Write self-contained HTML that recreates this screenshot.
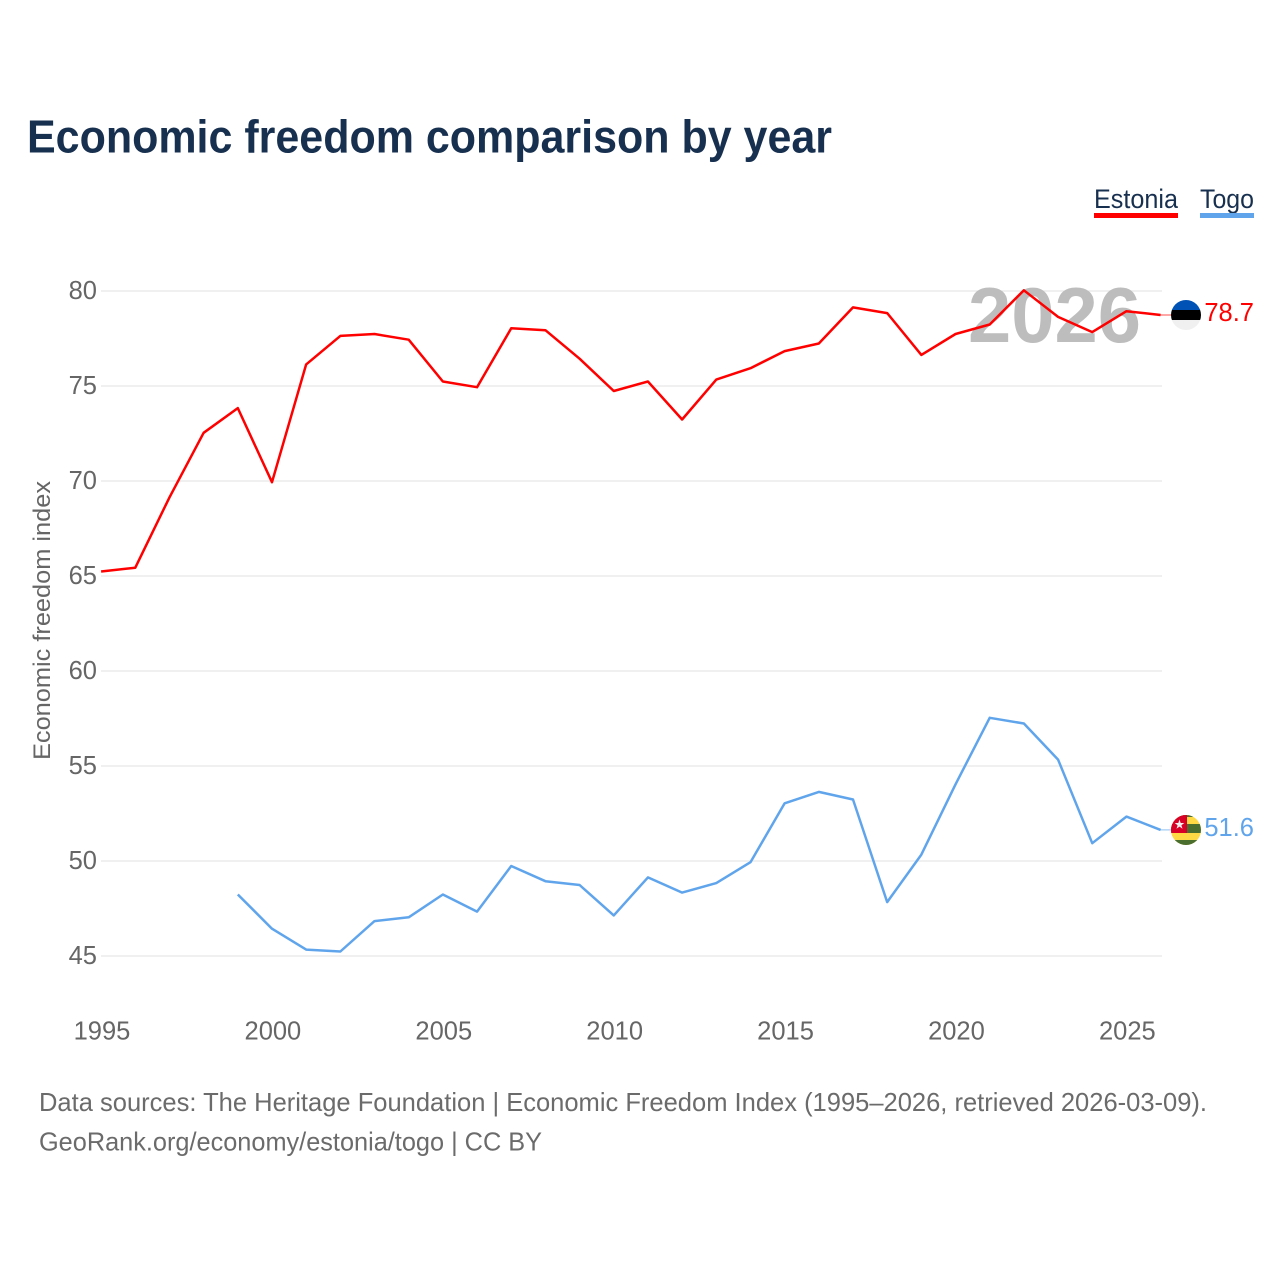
<!DOCTYPE html>
<html lang="en">
<head>
<meta charset="utf-8">
<title>Economic freedom comparison by year</title>
<style>
html,body{margin:0;padding:0;background:#fff}
svg{display:block}
text{font-family:"Liberation Sans",sans-serif}
</style>
</head>
<body>
<svg id="chart" xmlns="http://www.w3.org/2000/svg" width="1280" height="1280" viewBox="0 0 1280 1280">
  <defs>
    <clipPath id="flag-clip-top"><circle cx="1186" cy="315" r="15"/></clipPath>
    <clipPath id="flag-clip-bottom"><circle cx="1186" cy="830" r="15"/></clipPath>
  </defs>
  <rect width="1280" height="1280" fill="#fff"/>
  <text x="27" y="152.5" font-size="46" font-weight="700" fill="#18304f" textLength="805" lengthAdjust="spacingAndGlyphs">Economic freedom comparison by year</text>
  <g>
    <text x="1094" y="208" font-size="27" fill="#18304f" textLength="84" lengthAdjust="spacingAndGlyphs">Estonia</text>
    <rect x="1094" y="213" width="84" height="5" fill="#ff0000"/>
  </g>
  <g>
    <text x="1200" y="208" font-size="27" fill="#18304f" textLength="54" lengthAdjust="spacingAndGlyphs">Togo</text>
    <rect x="1200" y="213" width="54" height="5" fill="#60a5ec"/>
  </g>
  <g id="grid"></g>
  <g id="yticks"></g>
  <g id="xticks"></g>
  <text transform="translate(50,620.5) rotate(-90)" text-anchor="middle" font-size="24" fill="#666" textLength="279" lengthAdjust="spacingAndGlyphs">Economic freedom index</text>
  <text x="968" y="342" font-size="78" font-weight="700" fill="#bdbdbd" textLength="173" lengthAdjust="spacingAndGlyphs">2026</text>
  <g id="series" transform="translate(-0.4,-0.7)"></g>
  <g clip-path="url(#flag-clip-top)">
    <rect x="1171" y="300" width="30" height="10" fill="#0052b4"/>
    <rect x="1171" y="310" width="30" height="10" fill="#000"/>
    <rect x="1171" y="320" width="30" height="10" fill="#f0f0f0"/>
  </g>
  <g clip-path="url(#flag-clip-bottom)">
    <rect x="1171" y="815" width="30" height="30" fill="#ffda44"/>
    <rect x="1171" y="815" width="30" height="2" fill="#496e2d"/>
    <rect x="1171" y="824" width="30" height="9" fill="#496e2d"/>
    <rect x="1171" y="840" width="30" height="5" fill="#496e2d"/>
    <rect x="1171" y="815" width="16" height="18" fill="#d80027"/>
    <polygon points="1179.5,819.5 1180.7,823 1184.3,823 1181.4,825.2 1182.5,828.7 1179.5,826.6 1176.5,828.7 1177.6,825.2 1174.7,823 1178.3,823" fill="#f0f0f0"/>
  </g>
  <text id="end-estonia" x="1254" y="321" text-anchor="end" font-size="25.5" fill="#ff0000"></text>
  <text id="end-togo" x="1254" y="836" text-anchor="end" font-size="25.5" fill="#60a5ec"></text>
  <text x="39" y="1111" font-size="26" fill="#6b6b6b" textLength="1168" lengthAdjust="spacingAndGlyphs">Data sources: The Heritage Foundation | Economic Freedom Index (1995–2026, retrieved 2026-03-09).</text>
  <text x="39" y="1150.5" font-size="26" fill="#6b6b6b" textLength="503" lengthAdjust="spacingAndGlyphs">GeoRank.org/economy/estonia/togo | CC BY</text>
</svg>
<script>
const yTickValues = [45, 50, 55, 60, 65, 70, 75, 80];
const xTickValues = [1995, 2000, 2005, 2010, 2015, 2020, 2025];
const estoniaYears = [1995,1996,1997,1998,1999,2000,2001,2002,2003,2004,2005,2006,2007,2008,2009,2010,2011,2012,2013,2014,2015,2016,2017,2018,2019,2020,2021,2022,2023,2024,2025,2026];
const estoniaValues = [65.2,65.4,69.1,72.5,73.8,69.9,76.1,77.6,77.7,77.4,75.2,74.9,78.0,77.9,76.4,74.7,75.2,73.2,75.3,75.9,76.8,77.2,79.1,78.8,76.6,77.7,78.2,80.0,78.6,77.8,78.9,78.7];
const togoYears = [1999,2000,2001,2002,2003,2004,2005,2006,2007,2008,2009,2010,2011,2012,2013,2014,2015,2016,2017,2018,2019,2020,2021,2022,2023,2024,2025,2026];
const togoValues = [48.2,46.4,45.3,45.2,46.8,47.0,48.2,47.3,49.7,48.9,48.7,47.1,49.1,48.3,48.8,49.9,53.0,53.6,53.2,47.8,50.3,54.0,57.5,57.2,55.3,50.9,52.3,51.6];

const NS = 'http://www.w3.org/2000/svg';
const xScale = year => 101.5 + (year - 1995) * (1161 - 101.5) / 31;
const yScale = value => 956 - (value - 45) * (956 - 291) / 35;

function make(tag, parent, attrs, text) {
  const el = document.createElementNS(NS, tag);
  for (const k in attrs) el.setAttribute(k, attrs[k]);
  if (text !== undefined) el.textContent = text;
  parent.appendChild(el);
  return el;
}

const grid = document.getElementById('grid');
const yticks = document.getElementById('yticks');
const xticks = document.getElementById('xticks');
const series = document.getElementById('series');

yTickValues.forEach(v => {
  const line = make('line', grid, {x1: 101, x2: 1162, y1: yScale(v), y2: yScale(v), stroke: '#ebebeb', 'stroke-width': 1.5});
  
  
  const label = make('text', yticks, {x: 97, y: yScale(v) + 8, 'text-anchor': 'end', 'font-size': 25.5, fill: '#666'}, String(v));
  
  
});

xTickValues.forEach(v => {
  const label = make('text', xticks, {x: xScale(v) + 0.5, y: 1039.5, 'text-anchor': 'middle', 'font-size': 25.5, fill: '#666'}, String(v));
  
  
});

function drawSeries(years, values, color, name, endId, flagX) {
  const pts = years.map((y, i) => xScale(y).toFixed(2) + ',' + yScale(values[i]).toFixed(2)).join(' ');
  const line = make('polyline', series, {points: pts, fill: 'none', stroke: color, 'stroke-width': 2.5, 'stroke-linejoin': 'round'});
  
  
  const last = values[values.length - 1];
  const lastY = yScale(last);
  const connector = make('line', series, {x1: xScale(years[years.length - 1]), x2: flagX, y1: lastY, y2: lastY, stroke: color, 'stroke-width': 1, 'stroke-opacity': 0.7});
  
  
  document.getElementById(endId).textContent = last.toFixed(1);
}

drawSeries(estoniaYears, estoniaValues, '#ff0000', 'estonia', 'end-estonia', 1172);
drawSeries(togoYears, togoValues, '#60a5ec', 'togo', 'end-togo', 1172);
</script>
</body>
</html>
